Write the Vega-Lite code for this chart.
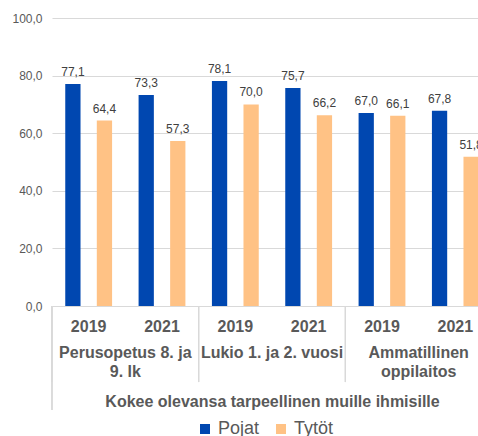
{
  "$schema": "https://vega.github.io/schema/vega-lite/v6.json",
  "width": 440,
  "height": 288,
  "autosize": {"type": "none"},
  "padding": {"left": 52, "top": 18, "right": 0, "bottom": 130},
  "background": "#ffffff",
  "config": {
    "locale": {"number": {"decimal": ",", "thousands": "\u00a0", "grouping": [3], "currency": ["", "\u00a0€"]}},
    "font": "Liberation Sans",
    "view": {"stroke": null}
  },
  "data": {
    "values": [
      {"group": "Perusopetus 8. ja 9. lk", "cat": "P 2019", "sex": "Pojat", "value": 77.1},
      {"group": "Perusopetus 8. ja 9. lk", "cat": "P 2019", "sex": "Tytöt", "value": 64.4},
      {"group": "Perusopetus 8. ja 9. lk", "cat": "P 2021", "sex": "Pojat", "value": 73.3},
      {"group": "Perusopetus 8. ja 9. lk", "cat": "P 2021", "sex": "Tytöt", "value": 57.3},
      {"group": "Lukio 1. ja 2. vuosi", "cat": "L 2019", "sex": "Pojat", "value": 78.1},
      {"group": "Lukio 1. ja 2. vuosi", "cat": "L 2019", "sex": "Tytöt", "value": 70.0},
      {"group": "Lukio 1. ja 2. vuosi", "cat": "L 2021", "sex": "Pojat", "value": 75.7},
      {"group": "Lukio 1. ja 2. vuosi", "cat": "L 2021", "sex": "Tytöt", "value": 66.2},
      {"group": "Ammatillinen oppilaitos", "cat": "A 2019", "sex": "Pojat", "value": 67.0},
      {"group": "Ammatillinen oppilaitos", "cat": "A 2019", "sex": "Tytöt", "value": 66.1},
      {"group": "Ammatillinen oppilaitos", "cat": "A 2021", "sex": "Pojat", "value": 67.8},
      {"group": "Ammatillinen oppilaitos", "cat": "A 2021", "sex": "Tytöt", "value": 51.8}
    ]
  },
  "layer": [
    {
      "encoding": {
        "x": {
          "field": "cat", "type": "nominal",
          "sort": ["P 2019", "P 2021", "L 2019", "L 2021", "A 2019", "A 2021"],
          "scale": {"paddingInner": 0, "paddingOuter": 0},
          "axis": {
            "orient": "bottom",
            "title": null, "domain": false, "ticks": false, "grid": false,
            "labelAngle": 0, "labelExpr": "slice(datum.value, -4)",
            "labelFont": "Liberation Sans", "labelFontSize": 16, "labelFontWeight": "bold",
            "labelColor": "#595959", "labelPadding": 12, "labelBaseline": "top"
          }
        },
        "xOffset": {
          "field": "sex", "type": "nominal",
          "scale": {"paddingInner": 0.516, "paddingOuter": 0.42}
        },
        "y": {
          "field": "value", "type": "quantitative",
          "scale": {"domain": [0, 100], "nice": false},
          "axis": {
            "title": null, "values": [0, 20, 40, 60, 80, 100], "format": ".1f",
            "domain": false, "ticks": false, "gridColor": "#d9d9d9", "gridWidth": 1,
            "labelFont": "Liberation Sans", "labelFontSize": 12, "labelColor": "#595959",
            "labelPadding": 10
          }
        }
      },
      "layer": [
        {
          "mark": {"type": "bar"},
          "encoding": {
            "color": {
              "field": "sex", "type": "nominal",
              "scale": {"domain": ["Pojat", "Tytöt"], "range": ["#0047b0", "#ffc285"]},
              "legend": {
                "title": null, "orient": "none", "direction": "horizontal",
                "legendX": 144, "legendY": 402, "padding": 0,
                "symbolType": "square", "symbolSize": 100, "symbolStrokeWidth": 0,
                "labelFont": "Liberation Sans", "labelFontSize": 18, "labelColor": "#595959",
                "labelOffset": 4, "columnPadding": 12
              }
            }
          }
        },
        {
          "mark": {"type": "text", "baseline": "alphabetic", "dy": -8, "font": "Liberation Sans", "fontSize": 12, "color": "#404040"},
          "encoding": {
            "text": {"field": "value", "type": "quantitative", "format": ".1f"}
          }
        }
      ]
    },
    {
      "encoding": {
        "x": {
          "field": "group", "type": "nominal", "bandPosition": 0,
          "sort": ["Perusopetus 8. ja 9. lk", "Lukio 1. ja 2. vuosi", "Ammatillinen oppilaitos"],
          "scale": {"paddingInner": 0, "paddingOuter": 0},
          "axis": {
            "orient": "bottom",
            "title": "Kokee olevansa tarpeellinen muille ihmisille",
            "titleFont": "Liberation Sans", "titleFontSize": 16, "titleFontWeight": "bold",
            "titleColor": "#595959", "titlePadding": 14,
            "domain": false, "ticks": false, "grid": false, "labelAngle": 0,
            "labelExpr": "datum.value == 'Perusopetus 8. ja 9. lk' ? ['Perusopetus 8. ja', '9. lk'] : datum.value == 'Ammatillinen oppilaitos' ? ['Ammatillinen', 'oppilaitos'] : datum.value",
            "labelFont": "Liberation Sans", "labelFontSize": 16, "labelFontWeight": "bold",
            "labelColor": "#595959", "labelPadding": 38, "labelBaseline": "top",
            "labelLineHeight": 19, "labelOverlap": false
          }
        },
        "y": {"datum": 0, "type": "quantitative", "scale": {"domain": [0, 100], "nice": false}}
      },
      "layer": [
        {
          "mark": {"type": "rule", "color": "#d9d9d9", "strokeWidth": 1},
          "encoding": {
            "y2": {"datum": -26.4}
          }
        },
        {
          "transform": [{"filter": "datum.group == 'Perusopetus 8. ja 9. lk'"}],
          "mark": {"type": "rule", "color": "#d9d9d9", "strokeWidth": 1},
          "encoding": {
            "y2": {"datum": -36.1}
          }
        }
      ]
    }
  ],
  "resolve": {"scale": {"x": "independent"}, "axis": {"x": "independent"}}
}
